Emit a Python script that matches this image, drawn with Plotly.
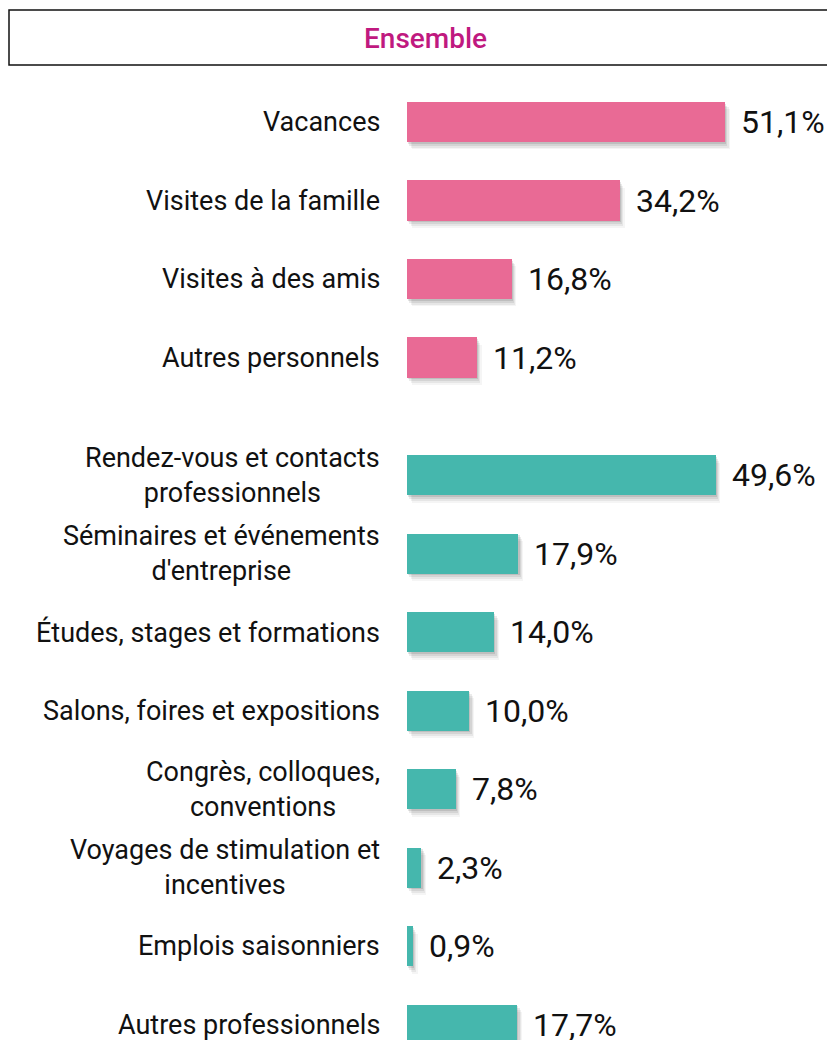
import plotly.graph_objects as go

# ---- data ----
perso_labels = ["Vacances", "Visites de la famille", "Visites à des amis", "Autres personnels"]
perso_values = [51.1, 34.2, 16.8, 11.2]
pro_labels = ["Rendez-vous et contacts<br>professionnels",
              "Séminaires et événements<br>d'entreprise",
              "Études, stages et formations",
              "Salons, foires et expositions",
              "Congrès, colloques,<br>conventions",
              "Voyages de stimulation et<br>incentives",
              "Emplois saisonniers",
              "Autres professionnels"]
pro_values = [49.6, 17.9, 14.0, 10.0, 7.8, 2.3, 0.9, 17.7]
title_text = "Ensemble"

perso_pos = [0, 1, 2, 3]
pro_pos = [4.5, 5.5, 6.5, 7.5, 8.5, 9.5, 10.5, 11.5]

PINK = "#E96A95"
TEAL = "#45B7AD"
MAGENTA = "#C0197F"
FONT = "Roboto"
BAR_W = 0.51

# page body has an 8px margin -> figure is drawn 8px lower/right
W, H = 827, 1032
L = 399
PX_PER_PCT = 6.22
PX_PER_ROW = 78.5
ROW0_Y = 114  # centre of first bar in figure pixels

fig = go.Figure()

all_pos = perso_pos + pro_pos
all_vals = perso_values + pro_values

# soft drop shadow (several translucent layers)
for dy, dx, a in [(0.02, 0.2, 0.10), (0.045, 0.4, 0.08), (0.07, 0.6, 0.06), (0.095, 0.8, 0.04)]:
    fig.add_trace(go.Bar(
        orientation="h", y=all_pos, x=all_vals, base=dx,
        width=BAR_W, offset=-BAR_W / 2 + dy,
        marker=dict(color=f"rgba(0,0,0,{a})", line=dict(width=0)),
        hoverinfo="skip", showlegend=False))

fig.add_trace(go.Bar(orientation="h", y=perso_pos, x=perso_values, width=BAR_W,
                     marker=dict(color=PINK, line=dict(width=0)), showlegend=False))
fig.add_trace(go.Bar(orientation="h", y=pro_pos, x=pro_values, width=BAR_W,
                     marker=dict(color=TEAL, line=dict(width=0)), showlegend=False))

annotations = []
for lab, p in zip(perso_labels + pro_labels, all_pos):
    annotations.append(dict(x=0, y=p, xref="x", yref="y", text=lab, showarrow=False,
                            xanchor="right", yanchor="middle", align="center", xshift=-25,
                            font=dict(family=FONT, size=27, color="#111111")))
for v, p in zip(all_vals, all_pos):
    annotations.append(dict(x=v, y=p, xref="x", yref="y",
                            text=f"{v:.1f}".replace(".", ",") + "%", showarrow=False,
                            xanchor="left", yanchor="middle", xshift=14,
                            font=dict(family=FONT, size=32, color="#111111")))
annotations.append(dict(x=(417 - L) / (W - L), y=1 - 30 / H, xref="paper", yref="paper",
                        text=title_text, showarrow=False, xanchor="center", yanchor="middle",
                        font=dict(family=FONT, size=28, color=MAGENTA, weight=500)))

fig.update_layout(
    width=W, height=H, autosize=False,
    margin=dict(l=L, r=0, t=0, b=0, pad=0),
    paper_bgcolor="white", plot_bgcolor="white",
    barmode="overlay", bargap=0,
    xaxis=dict(range=[0, (W - L) / PX_PER_PCT], visible=False, fixedrange=True),
    yaxis=dict(range=[(H - ROW0_Y) / PX_PER_ROW, -ROW0_Y / PX_PER_ROW],
               visible=False, fixedrange=True),
    annotations=annotations,
    shapes=[dict(type="rect", xref="paper", yref="paper",
                 x0=(1 - L) / (W - L), x1=1.02, y0=1 - 57 / H, y1=1 - 2 / H,
                 line=dict(color="#111111", width=1.5), fillcolor="rgba(0,0,0,0)")],
)

fig.write_html("out.html")
